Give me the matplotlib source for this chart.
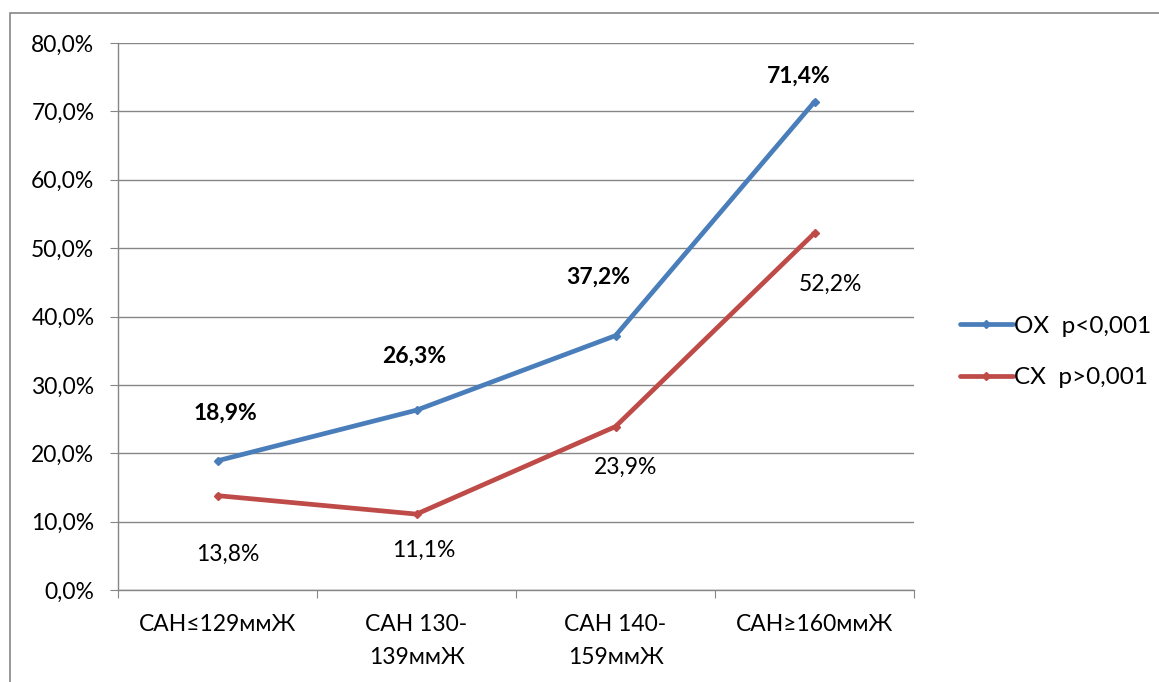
import matplotlib
matplotlib.use("Agg")
import matplotlib.pyplot as plt
from matplotlib.patches import Rectangle
from matplotlib.ticker import FuncFormatter, FixedLocator

plt.rcParams['font.family'] = ['Lato', 'DejaVu Sans']

categories = ["САН≤129ммЖ", "САН 130-\n139ммЖ", "САН 140-\n159ммЖ", "САН≥160ммЖ"]
ox_values = [18.9, 26.3, 37.2, 71.4]
cx_values = [13.8, 11.1, 23.9, 52.2]
ox_label = "ОХ  p<0,001"
cx_label = "СХ  p>0,001"

# label offsets in pixels (dx, dy)
ox_offsets = [(8, 48), (-2, 54), (-17, 58), (-16, 26)]
cx_offsets = [(10, -59), (7, -36), (10, -41), (16, -51)]

blue = "#4A7EBB"
red = "#BE4B48"
grid_c = "#868686"

fig = plt.figure(figsize=(11.59, 6.82), dpi=100)
fig.patches.append(Rectangle((10 / 1159, -0.1), 1.2, 1 - 13 / 682 + 0.1,
                             transform=fig.transFigure, fill=False,
                             edgecolor=grid_c, linewidth=1.2))

ax = fig.add_axes([118 / 1159, 1 - 590 / 682, 796 / 1159, 547 / 682])
x = list(range(len(categories)))

ax.plot(x, ox_values, color=blue, linewidth=3.4, marker="D", markersize=4,
        label=ox_label, solid_capstyle="round")
ax.plot(x, cx_values, color=red, linewidth=3.4, marker="D", markersize=4,
        label=cx_label, solid_capstyle="round")

def fmt(v):
    return f"{v:.1f}".replace(".", ",") + "%"

for xi, v, (dx, dy) in zip(x, ox_values, ox_offsets):
    ax.annotate(fmt(v), (xi, v), xytext=(dx * 0.72, dy * 0.72),
                textcoords="offset points", ha="center", va="center",
                fontsize=16.5, fontweight="bold", color="black")
for xi, v, (dx, dy) in zip(x, cx_values, cx_offsets):
    ax.annotate(fmt(v), (xi, v), xytext=(dx * 0.72, dy * 0.72),
                textcoords="offset points", ha="center", va="center",
                fontsize=16.5, color="black")

ax.set_xlim(-0.5, len(categories) - 0.5)
ax.set_ylim(0, 80)
ax.yaxis.set_major_locator(FixedLocator(range(0, 81, 10)))
ax.yaxis.set_major_formatter(FuncFormatter(lambda v, p: fmt(v)))
ax.grid(axis="y", color=grid_c, linewidth=1)
ax.set_axisbelow(True)

ax.xaxis.set_major_locator(FixedLocator([i - 0.5 for i in range(len(categories) + 1)]))
ax.xaxis.set_major_formatter(FuncFormatter(lambda v, p: ""))
ax.xaxis.set_minor_locator(FixedLocator(x))
ax.set_xticklabels(categories, minor=True, fontsize=16.5, linespacing=1.75, va="top")
ax.tick_params(axis="x", which="minor", length=0, pad=17)
ax.tick_params(axis="x", which="major", length=6, color=grid_c, direction="out")
ax.tick_params(axis="y", length=6, color=grid_c, direction="out", labelsize=16.5, pad=11)

for s in ["top", "right"]:
    ax.spines[s].set_visible(False)
for s in ["left", "bottom"]:
    ax.spines[s].set_color(grid_c)
    ax.spines[s].set_linewidth(1)

fig.legend(loc="center left", bbox_to_anchor=(950 / 1159, 1 - 352 / 682),
           frameon=False, fontsize=17.5, handlelength=2.2, handletextpad=0.05,
           labelspacing=1.25, borderaxespad=0)

fig.savefig("out.png", dpi=100)
